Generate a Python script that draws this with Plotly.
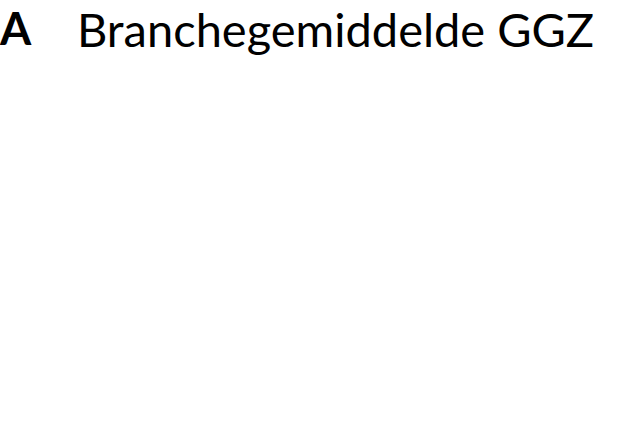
import plotly.graph_objects as go

panel_label = "A"
panel_title = "Branchegemiddelde GGZ"

fig = go.Figure()

fig.add_annotation(
    text="<b>" + panel_label + "</b>", xref="paper", yref="paper",
    x=0.0, y=1.0, xanchor="left", yanchor="top", showarrow=False,
    font=dict(family="Lato", size=45, color="black"),
    borderpad=0, xshift=-2, yshift=0,
)
fig.add_annotation(
    text=panel_title, xref="paper", yref="paper",
    x=0.0, y=1.0, xanchor="left", yanchor="top", showarrow=False,
    font=dict(family="Lato", size=47, color="black"),
    borderpad=0, xshift=76, yshift=0,
)

fig.update_layout(
    width=637, height=428,
    margin=dict(l=0, r=0, t=0, b=0),
    paper_bgcolor="white", plot_bgcolor="white",
    xaxis=dict(visible=False), yaxis=dict(visible=False),
    showlegend=False,
)

# page default body margin would offset the figure by 8px
fig.write_html("out.html", config={"displayModeBar": False},
               post_script="document.body.style.margin='0';")
